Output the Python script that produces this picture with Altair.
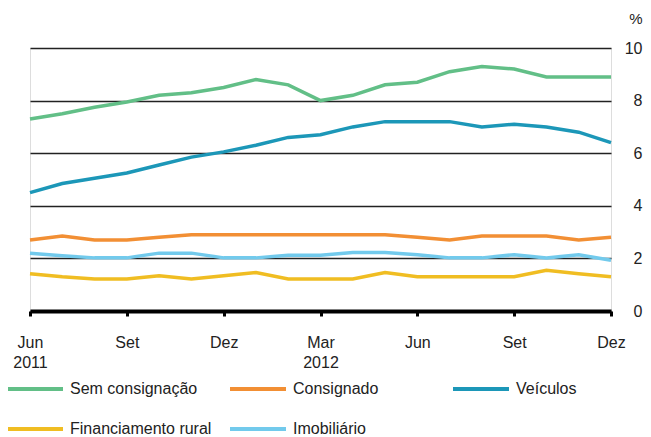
import altair as alt
import pandas as pd

# Month index 0 = Jun 2011 ... 18 = Dez 2012
months = list(range(19))
series_names = ["Sem consignação", "Consignado", "Veículos", "Financiamento rural", "Imobiliário"]
series_colors = ["#62bf87", "#f28f34", "#1c97b8", "#f0bd22", "#72caec"]

sem_consignacao = [7.3, 7.5, 7.75, 7.95, 8.2, 8.3, 8.5, 8.8, 8.6, 8.0, 8.2, 8.6, 8.7, 9.1, 9.3, 9.2, 8.9, 8.9, 8.9]
consignado = [2.7, 2.85, 2.7, 2.7, 2.8, 2.9, 2.9, 2.9, 2.9, 2.9, 2.9, 2.9, 2.8, 2.7, 2.85, 2.85, 2.85, 2.7, 2.8]
veiculos = [4.5, 4.85, 5.05, 5.25, 5.55, 5.85, 6.05, 6.3, 6.6, 6.7, 7.0, 7.2, 7.2, 7.2, 7.0, 7.1, 7.0, 6.8, 6.4]
rural = [1.42, 1.3, 1.22, 1.22, 1.34, 1.22, 1.34, 1.46, 1.22, 1.22, 1.22, 1.46, 1.3, 1.3, 1.3, 1.3, 1.55, 1.42, 1.3]
imobiliario = [2.2, 2.1, 2.02, 2.02, 2.2, 2.2, 2.02, 2.02, 2.12, 2.12, 2.22, 2.22, 2.14, 2.02, 2.02, 2.14, 2.02, 2.14, 1.93]

tick_values = [0, 3, 6, 9, 12, 15, 18]
tick_labels = [["Jun", "2011"], ["Set"], ["Dez"], ["Mar", "2012"], ["Jun"], ["Set"], ["Dez"]]
y_ticks = [0, 2, 4, 6, 8, 10]

rows = []
for name, vals in zip(series_names, [sem_consignacao, consignado, veiculos, rural, imobiliario]):
    for m, v in zip(months, vals):
        rows.append({"mes": m, "serie": name, "valor": v})
df = pd.DataFrame(rows)

def arr(lst):
    return "[" + ",".join("'" + s + "'" for s in lst) + "]"

label_expr = ""
for v, lab in zip(tick_values, tick_labels):
    label_expr += f"datum.value == {v} ? {arr(lab)} : "
label_expr += "''"

FONT = "Liberation Sans"

chart = alt.Chart(df).mark_line(strokeWidth=3.5).encode(
    x=alt.X("mes:Q", scale=alt.Scale(domain=[0, 18], nice=False, zero=False),
            axis=alt.Axis(values=tick_values, labelExpr=label_expr, title=None, grid=False,
                          domainColor="#000000", domainWidth=4, tickColor="#000000",
                          tickWidth=3, tickSize=5, labelPadding=18, labelFontSize=16,
                          labelFont=FONT, labelColor="#222222", labelLineHeight=20,
                          labelFlush=False, labelOverlap=False)),
    y=alt.Y("valor:Q", scale=alt.Scale(domain=[0, 10], nice=False),
            axis=alt.Axis(orient="right", values=y_ticks, grid=True, gridColor="#222222",
                          gridWidth=1.5, domain=False, ticks=False, tickSize=0, labelPadding=31,
                          labelAlign="right", labelFontSize=16, labelFont=FONT,
                          labelColor="#222222", title="%", titleAngle=0, titleX=31,
                          titleY=-30, titleAlign="right", titleBaseline="middle",
                          titleFontSize=15, titleFontWeight="normal", titleFont=FONT,
                          titleColor="#222222")),
    color=alt.Color("serie:N", sort=series_names,
                    scale=alt.Scale(domain=series_names, range=series_colors),
                    legend=alt.Legend(orient="none", legendX=-25, legendY=311,
                                      direction="horizontal", columns=3, title=None,
                                      symbolType="stroke", symbolSize=3136,
                                      symbolStrokeWidth=4, labelFontSize=16, labelFont=FONT,
                                      labelColor="#222222", labelOffset=5, columnPadding=10,
                                      rowPadding=2, gridAlign="all", labelLimit=0)),
    order=alt.Order("mes:Q"),
).properties(
    width=581, height=263,
    padding={"left": 22, "top": 40, "right": 32, "bottom": 140},
    autosize=alt.AutoSizeParams(type="none"),
).configure_view(stroke=None).configure(background="#ffffff")

chart.save("out.html", embed_options={"renderer": "svg", "actions": False})
